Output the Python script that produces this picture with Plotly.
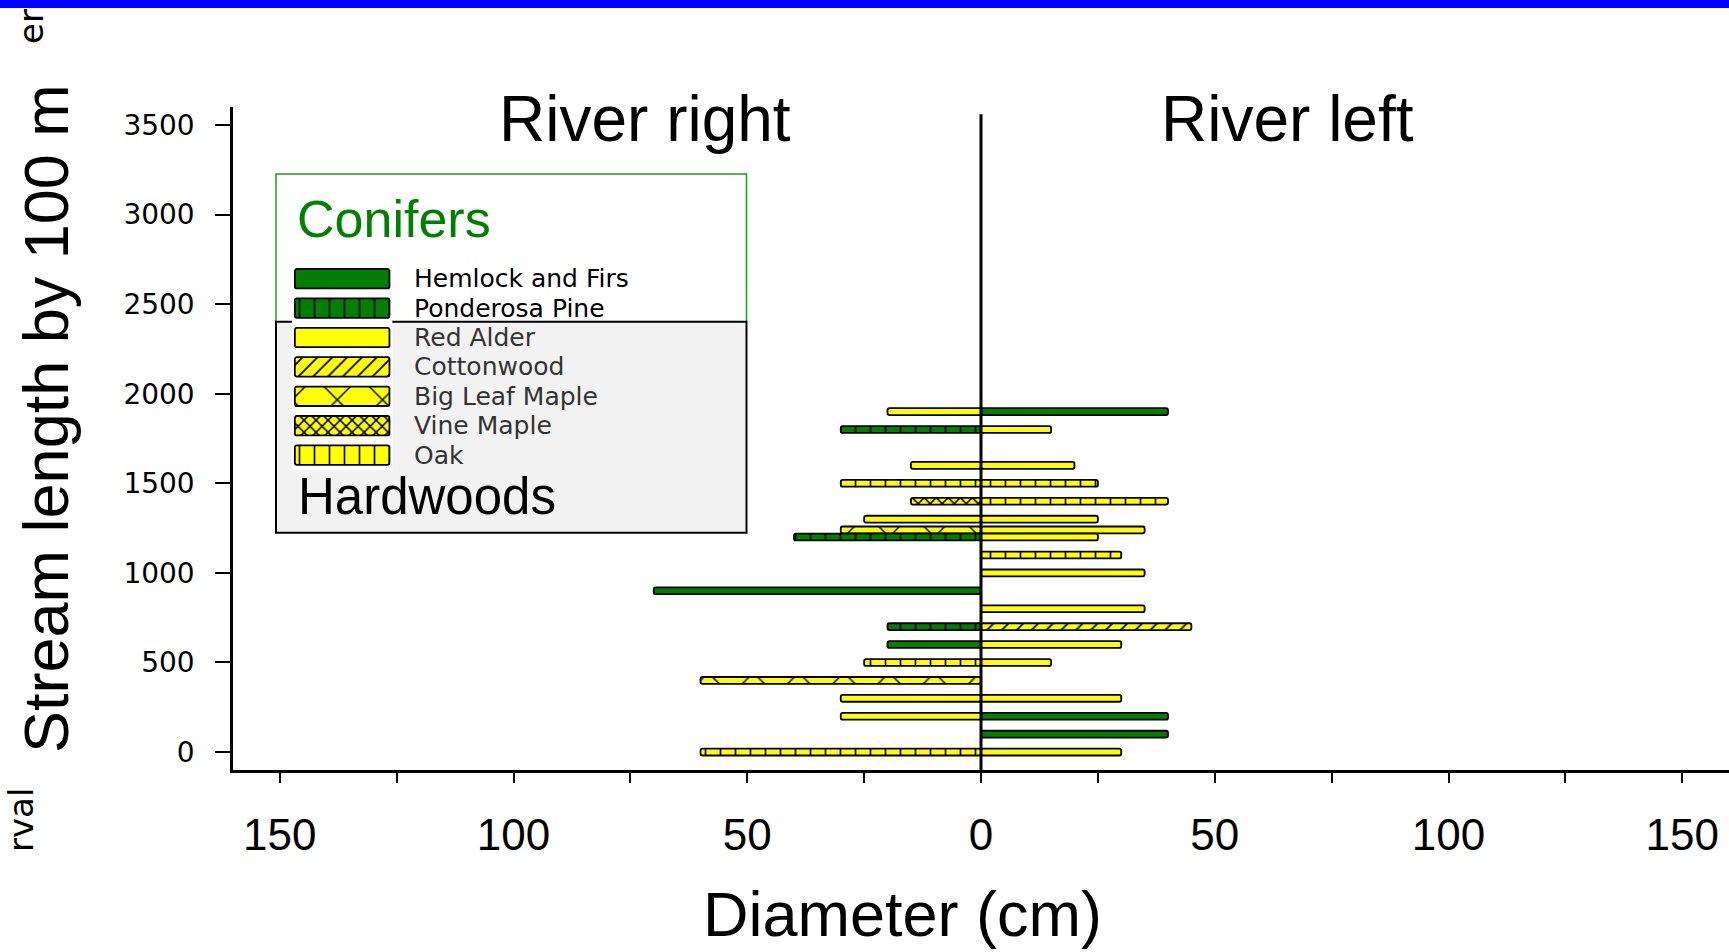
import plotly.graph_objects as go

# ---------------- data ----------------
species = ["Hemlock and Firs", "Ponderosa Pine", "Red Alder", "Cottonwood",
           "Big Leaf Maple", "Vine Maple", "Oak"]

# River right bank (drawn to the left, diameter in cm) / River left bank (drawn to the right)
hemlock_rr_y = [900, 600]
hemlock_rr_d = [70, 20]
hemlock_rl_y = [1900, 200, 100]
hemlock_rl_d = [40, 40, 40]

ponderosa_rr_y = [1800, 1200, 700]
ponderosa_rr_d = [30, 40, 20]

alder_rr_y = [1900, 1600, 1300, 300, 200]
alder_rr_d = [20, 15, 25, 30, 30]
alder_rl_y = [1800, 1600, 1300, 1240, 1200, 1000, 800, 600, 500, 300, 0]
alder_rl_d = [15, 20, 25, 35, 25, 35, 35, 30, 15, 30, 30]

cotton_rl_y = [700]
cotton_rl_d = [45]

bigleaf_rr_y = [1240, 400]
bigleaf_rr_d = [30, 60]

vine_rr_y = [1400]
vine_rr_d = [15]

oak_rr_y = [1500, 500, 0]
oak_rr_d = [30, 25, 60]
oak_rl_y = [1500, 1400, 1100]
oak_rl_d = [25, 40, 30]

y_ticks = [0, 500, 1000, 1500, 2000, 2500, 3000, 3500]
x_ticks = [-150, -125, -100, -75, -50, -25, 0, 25, 50, 75, 100, 125, 150]
x_ticklabels = ["150", "", "100", "", "50", "", "0", "", "50", "", "100", "", "150"]

# ---------------- styles ----------------
GREEN = "#008000"
YELLOW = "#ffff00"
ARIAL = "Liberation Sans, Arial, sans-serif"
WIDE = "DejaVu Sans, Verdana, sans-serif"

def pat(shape, bg, size, solidity):
    if shape == "":
        return dict(shape="")
    return dict(shape=shape, bgcolor=bg, fgcolor="black", fgopacity=1,
                size=size, solidity=solidity, fillmode="replace")

style = {
    "Hemlock and Firs": (GREEN, pat("", GREEN, 0, 0)),
    "Ponderosa Pine": (GREEN, pat("|", GREEN, 15, 0.11)),
    "Red Alder": (YELLOW, pat("", YELLOW, 0, 0)),
    "Cottonwood": (YELLOW, pat("/", YELLOW, 10.5, 0.17)),
    "Big Leaf Maple": (YELLOW, pat("x", YELLOW, 32, 0.09)),
    "Vine Maple": (YELLOW, pat("x", YELLOW, 8.5, 0.33)),
    "Oak": (YELLOW, pat("|", YELLOW, 15, 0.11)),
}

BAR_W = 38
LINE_W = 1.8

fig = go.Figure()

def add_bars(name, ys, ds, sign):
    color, p = style[name]
    fig.add_trace(go.Bar(
        orientation="h", y=ys, x=[sign * d for d in ds], base=0, width=BAR_W,
        marker=dict(color=color, pattern=p, line=dict(color="black", width=LINE_W),
                    cornerradius=2),
        name=name, showlegend=False, hoverinfo="skip"))

add_bars("Hemlock and Firs", hemlock_rr_y, hemlock_rr_d, -1)
add_bars("Hemlock and Firs", hemlock_rl_y, hemlock_rl_d, 1)
add_bars("Red Alder", alder_rr_y, alder_rr_d, -1)
add_bars("Red Alder", alder_rl_y, alder_rl_d, 1)
add_bars("Cottonwood", cotton_rl_y, cotton_rl_d, 1)
add_bars("Big Leaf Maple", bigleaf_rr_y, bigleaf_rr_d, -1)
add_bars("Vine Maple", vine_rr_y, vine_rr_d, -1)
add_bars("Oak", oak_rr_y, oak_rr_d, -1)
add_bars("Oak", oak_rl_y, oak_rl_d, 1)
add_bars("Ponderosa Pine", ponderosa_rr_y, ponderosa_rr_d, -1)

# legend swatches drawn on an auxiliary hidden axis pair
for name in species:
    color, p = style[name]
    fig.add_trace(go.Bar(
        orientation="h", y=[name], x=[1], base=0, width=0.66,
        xaxis="x2", yaxis="y2",
        marker=dict(color=color, pattern=p, line=dict(color="black", width=LINE_W),
                    cornerradius=2),
        showlegend=False, hoverinfo="skip"))

# ---------------- layout ----------------
L, T, B = 233, 107, 182
W, H = 1729, 952
PH = H - T - B
PW = W - L

def px_x(x):
    return (x - L) / PW

def px_y(y):
    return (H - B - y) / PH

ROW0, STEP = 278.7, 29.4
leg_top = ROW0 - STEP / 2
leg_bot = ROW0 + 6 * STEP + STEP / 2

fig.update_layout(
    width=W, height=H, autosize=False,
    margin=dict(l=L, r=0, t=T, b=B, pad=0),
    paper_bgcolor="white", plot_bgcolor="white",
    barmode="overlay", showlegend=False,
    xaxis=dict(range=[-160, 160], tickvals=x_ticks, ticktext=x_ticklabels,
               ticks="outside", ticklen=10, tickwidth=2, tickcolor="black",
               showline=True, linecolor="black", linewidth=2.5,
               showgrid=False, zeroline=False,
               tickfont=dict(family=ARIAL, size=44, color="black"),
               ticklabelstandoff=14),
    yaxis=dict(range=[-100, 3600], tickvals=y_ticks,
               ticks="outside", ticklen=15, tickwidth=2, tickcolor="black",
               showline=True, linecolor="black", linewidth=2.5,
               showgrid=False, zeroline=False,
               tickfont=dict(family=WIDE, size=28, color="black"),
               ticklabelstandoff=15),
    xaxis2=dict(domain=[px_x(292), px_x(392.3)], range=[-0.03, 1.03], anchor="y2",
                visible=False, fixedrange=True),
    yaxis2=dict(domain=[px_y(leg_bot), px_y(leg_top)],
                range=[6.5, -0.5], anchor="x2", type="category",
                categoryorder="array", categoryarray=species,
                visible=False, fixedrange=True),
)

# centre line
fig.add_shape(type="line", xref="x", yref="y", x0=0, x1=0, y0=-100, y1=3560,
              line=dict(color="black", width=3), layer="above")

# legend boxes
fig.add_shape(type="rect", xref="paper", yref="paper",
              x0=px_x(276), x1=px_x(746.5), y0=px_y(321.7), y1=px_y(174),
              line=dict(color="#19a019", width=1.5), fillcolor="white", layer="below")
fig.add_shape(type="rect", xref="paper", yref="paper",
              x0=px_x(276), x1=px_x(746.5), y0=px_y(532.7), y1=px_y(321.7),
              line=dict(color="black", width=2), fillcolor="#f2f2f2", layer="below")

# blue strip at top
fig.add_shape(type="rect", xref="paper", yref="paper",
              x0=px_x(-20), x1=px_x(1760), y0=px_y(8), y1=px_y(-20),
              line=dict(width=0), fillcolor="#0000ff", layer="above")

ann = []
def text(t, x, y, size, family=ARIAL, color="black", xanchor="center", angle=0):
    ann.append(dict(text=t, x=px_x(x), y=px_y(y), xref="paper", yref="paper",
                    showarrow=False, xanchor=xanchor, yanchor="middle",
                    textangle=angle, font=dict(family=family, size=size, color=color)))

text("River right", 645, 119, 64)
text("River left", 1287, 119, 64)
text("Diameter (cm)", 902, 914, 63)
text("Stream length by 100 m", 46, 419, 63, angle=-90)
text("er", 31, 26, 34, family=WIDE, angle=-90)
text("rval", 21, 820, 34, family=WIDE, angle=-90)
text("Conifers", 295, 219, 52, color=GREEN, xanchor="left")
text("Hardwoods", 296, 496, 51, xanchor="left")
for i, name in enumerate(species):
    col = "black" if i < 2 else "#333333"
    text(name, 412, ROW0 + i * STEP, 25, family=WIDE, color=col, xanchor="left")

fig.update_layout(annotations=ann)

fig.write_html("out.html", config={"displayModeBar": False},
               post_script="document.body.style.margin='0';")
